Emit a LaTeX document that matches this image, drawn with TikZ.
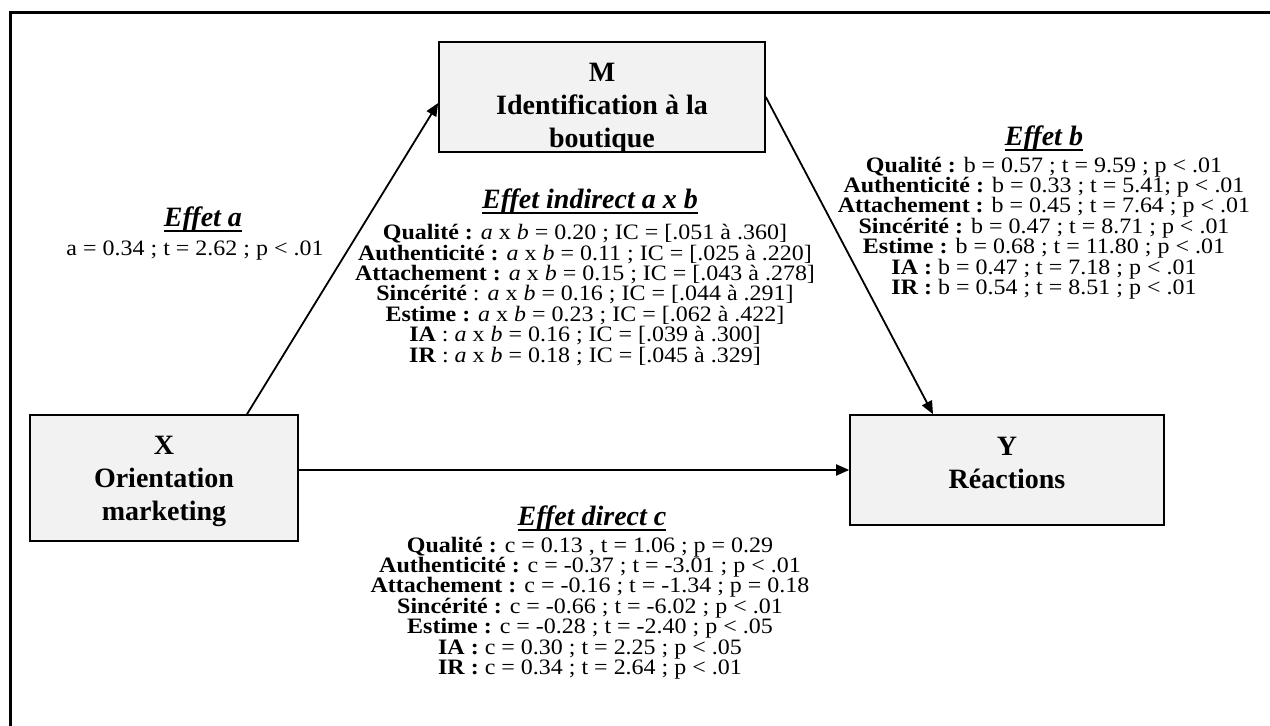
\documentclass[tikz,border=0pt]{standalone}
\usepackage{fontspec}
\setmainfont{Liberation Serif}
\newfontfamily\bodyfont[FakeStretch=1.09]{Liberation Serif}
\usetikzlibrary{arrows.meta,positioning}
\newcommand{\ttlline}[1]{\setbox0\hbox{#1}\rlap{\vrule height -1.6pt depth 2.6pt width \wd0}\box0}
\newcommand{\tightlines}{\lineskiplimit=-20pt\relax}

\begin{document}
\begin{tikzpicture}[x=0.5pt, y=-0.5pt,
    box/.style={draw, line width=0.8pt, fill=gray!10, align=center, inner sep=0pt, font=\fontsize{14}{16.5}\selectfont\bfseries},
    arr/.style={-{Triangle[length=6.5pt,width=5.5pt]}, line width=0.9pt},
    ttl/.style={inner sep=0pt, font=\fontsize{14}{16}\selectfont\bfseries\itshape},
    res/.style={align=center, inner sep=0pt, font=\bodyfont\fontsize{11}{10.2}\selectfont\tightlines}
]
    \useasboundingbox (0,0) rectangle (1270,726);
    \draw[line width=1.5pt] (10,726) -- (10,13) -- (1270,13);

    % the three variables
    \node[box, minimum width=163pt, minimum height=55pt] (M) at (602,97) {\rule{0pt}{18pt}M\\Identification à la\\\smash{boutique}};
    \node[box, minimum width=134pt, minimum height=63pt] (X) at (164,478) {\rule{0pt}{13pt}X\\Orientation\\marketing};
    \node[box, minimum width=157pt, minimum height=55pt] (Y) at (1007,470) {Y\\Réactions\rule[-7pt]{0pt}{7pt}};

    \draw[arr] ([xshift=41.5pt]X.north) -- ([yshift=-3pt]M.west);
    \draw[arr] (M.east) -- ([xshift=-37pt]Y.north);
    \draw[arr] (X.east |- Y.west) -- (Y.west);

    % effet a
    \node[ttl] (ta) at (203,220) {\ttlline{Effet a}};
    \node[res] (ra) at (195,251) {a = 0.34 ; t = 2.62 ; p < .01};

    % effet indirect
    \node[ttl] (tab) at (590,202) {\ttlline{Effet indirect a x b}};
    \node[res] (rab) at (585,295) {\textbf{Qualité :} \textit{a} x \textit{b} = 0.20 ; IC = [.051 à .360]\\
        \textbf{Authenticité :} \textit{a} x \textit{b} = 0.11 ; IC = [.025 à .220]\\
        \textbf{Attachement :} \textit{a} x \textit{b} = 0.15 ; IC = [.043 à .278]\\
        \textbf{Sincérité} : \textit{a} x \textit{b} = 0.16 ; IC = [.044 à .291]\\
        \textbf{Estime :} \textit{a} x \textit{b} = 0.23 ; IC = [.062 à .422]\\
        \textbf{IA} : \textit{a} x \textit{b} = 0.16 ; IC = [.039 à .300]\\
        \textbf{IR} : \textit{a} x \textit{b} = 0.18 ; IC = [.045 à .329]};

    % effet b
    \node[ttl] (tb) at (1044,139) {\ttlline{Effet b}};
    \node[res] (rb) at (1044,228) {\textbf{Qualité :} b = 0.57 ; t = 9.59 ; p < .01\\
        \textbf{Authenticité :} b = 0.33 ; t = 5.41; p < .01\\
        \textbf{Attachement :} b = 0.45 ; t = 7.64 ; p < .01\\
        \textbf{Sincérité :} b = 0.47 ; t = 8.71 ; p < .01\\
        \textbf{Estime :} b = 0.68 ; t = 11.80 ; p < .01\\
        \textbf{IA :} b = 0.47 ; t = 7.18 ; p < .01\\
        \textbf{IR :} b = 0.54 ; t = 8.51 ; p < .01};

    % effet direct
    \node[ttl] (tc) at (592,519) {\ttlline{Effet direct c}};
    \node[res] (rc) at (590,608) {\textbf{Qualité :} c = 0.13 , t = 1.06 ; p = 0.29\\
        \textbf{Authenticité :} c = -0.37 ; t = -3.01 ; p < .01\\
        \textbf{Attachement :} c = -0.16 ; t = -1.34 ; p = 0.18\\
        \textbf{Sincérité :} c = -0.66 ; t = -6.02 ; p < .01\\
        \textbf{Estime :} c = -0.28 ; t = -2.40 ; p < .05\\
        \textbf{IA :} c = 0.30 ; t = 2.25 ; p < .05\\
        \textbf{IR :} c = 0.34 ; t = 2.64 ; p < .01};
\end{tikzpicture}
\end{document}
